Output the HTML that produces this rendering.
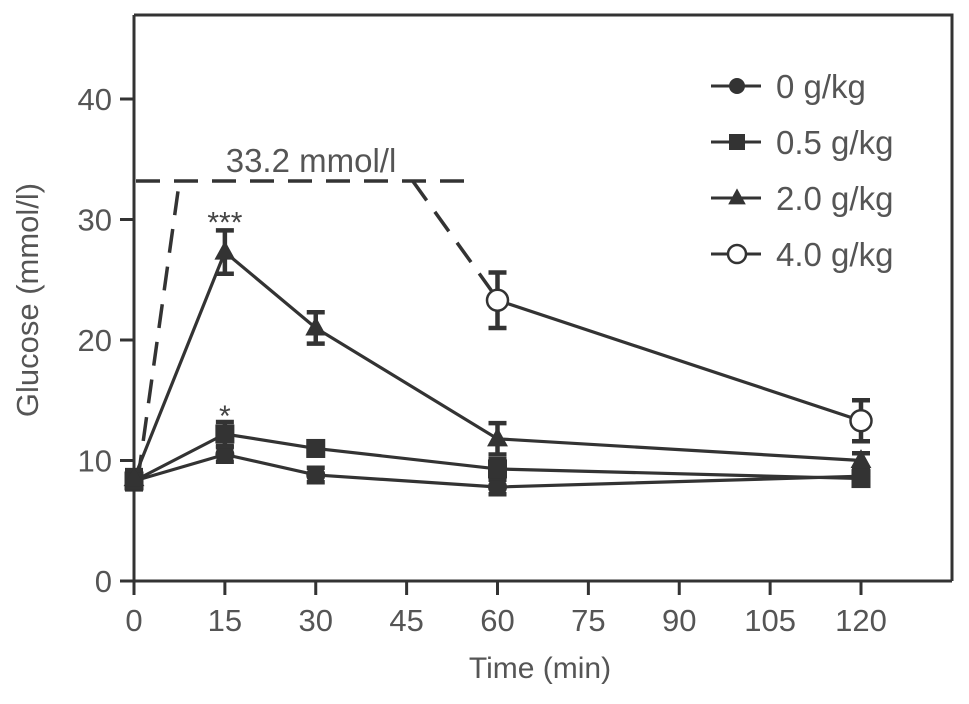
<!DOCTYPE html>
<html><head><meta charset="utf-8"><style>
html,body{margin:0;padding:0;background:#fff;}
svg{display:block;font-family:"Liberation Sans",sans-serif;}
</style></head><body>
<svg id="chart" width="969" height="704">
<g id="axes"></g><g id="marks"></g><g id="legend"></g>
</svg>
<script>
const times=[0,15,30,60,120];
const g0=[8.3,10.5,8.8,7.8,8.7];
const g0err=[0.6,0.6,0.6,0.6,0.5];
const g05=[8.3,12.2,11.0,9.3,8.5];
const g05err=[0.7,1.0,0.6,0.8,0.6];
const g2=[8.5,27.3,21.0,11.8,10.0];
const g2err=[0.7,1.8,1.3,1.3,0.6];
const g4t=[60,120];
const g4=[23.3,13.3];
const g4err=[2.3,1.7];
const xTicks=[0,15,30,45,60,75,90,105,120];
const yTicks=[0,10,20,30,40];
const limitVal=33.2;
const NS='http://www.w3.org/2000/svg';
const X=t=>134+t*(861-134)/120;
const Y=v=>581-v*12.05;
const C='#333';
function mk(tag,attrs,parent,text){const e=document.createElementNS(NS,tag);for(const k in attrs)e.setAttribute(k,attrs[k]);if(text!==undefined)e.textContent=text;parent.appendChild(e);return e;}
const axes=document.getElementById('axes'),marks=document.getElementById('marks'),leg=document.getElementById('legend');
let f=mk('path',{d:`M134,15 L952,15 L952,581 M120,581 L952,581 M134,15 L134,581`,fill:'none',stroke:C,'stroke-width':3},axes);


yTicks.forEach(v=>{
 let t=mk('line',{x1:120,x2:134,y1:Y(v),y2:Y(v),stroke:C,'stroke-width':3},axes);
 
 
 let l=mk('text',{x:112,y:Y(v)+11,'text-anchor':'end','font-size':31,fill:'#555'},axes,v);
 
 
});
xTicks.forEach(v=>{
 let t=mk('line',{x1:X(v),x2:X(v),y1:581,y2:595,stroke:C,'stroke-width':3},axes);
 
 
 let l=mk('text',{x:X(v),y:631,'text-anchor':'middle','font-size':31,fill:'#555'},axes,v);
 
 
});
let xt=mk('text',{x:540,y:678,'text-anchor':'middle','font-size':30,fill:'#555'},axes,'Time (min)');


let yt=mk('text',{x:0,y:0,'text-anchor':'middle','font-size':31,fill:'#555',transform:'translate(38,300) rotate(-90)'},axes,'Glucose (mmol/l)');


const dash={fill:'none',stroke:C,'stroke-width':3.5,'stroke-dasharray':'24,14'};
let d1=mk('path',Object.assign({d:`M${X(0)+4},${Y(g2[0])} L${X(7.5)},${Y(limitVal)}`},dash),marks);


let d2=mk('path',Object.assign({d:`M${X(0)+2},${Y(limitVal)} L${X(55.5)},${Y(limitVal)}`},dash),marks);


let d3=mk('path',Object.assign({d:`M${X(46)},${Y(limitVal)} L${X(59)},${Y(g4[0]+0.8)}`},dash),marks);


let lt=mk('text',{x:311,y:172,'text-anchor':'middle','font-size':33,fill:'#555'},marks,'33.2 mmol/l');


function marker(type,x,y,p,s){
 let e;
 if(type==='circle')e=mk('circle',{cx:x,cy:y,r:s,fill:C},p);
 else if(type==='open')e=mk('circle',{cx:x,cy:y,r:s,fill:'#fff',stroke:C,'stroke-width':2.5},p);
 else if(type==='square')e=mk('rect',{x:x-s,y:y-s,width:2*s,height:2*s,fill:C},p);
 else e=mk('path',{d:`M${x},${y-s*1.2} L${x+s*1.1},${y+s*0.8} L${x-s*1.1},${y+s*0.8}Z`,fill:C},p);
 return e;
}
function series(name,ts,vals,errs,type){
 const g=mk('g',{},marks);
 
 
 let ln=mk('polyline',{points:ts.map((t,i)=>X(t)+','+Y(vals[i])).join(' '),fill:'none',stroke:C,'stroke-width':3.2},g);
 
 
 ts.forEach((t,i)=>{
  const x=X(t),y1=Y(vals[i]+errs[i]),y2=Y(vals[i]-errs[i]);
  let eb=mk('path',{d:`M${x},${y1} L${x},${y2} M${x-9},${y1} L${x+9},${y1} M${x-9},${y2} L${x+9},${y2}`,stroke:C,'stroke-width':4.5,fill:'none'},g);
  
  
  let m=marker(type,x,Y(vals[i]),g,type==='open'?10.5:9.5);
  
  
 });
}
series('0-gkg',times,g0,g0err,'circle');
series('0.5-gkg',times,g05,g05err,'square');
series('2.0-gkg',times,g2,g2err,'triangle');
series('4.0-gkg',g4t,g4,g4err,'open');
let s3=mk('text',{x:X(15),y:Y(g2[1]+g2err[1])+2,'text-anchor':'middle','font-size':30,fill:'#444'},marks,'***');


let s1=mk('text',{x:X(15),y:Y(g05[1]+g05err[1])+4,'text-anchor':'middle','font-size':30,fill:'#444'},marks,'*');


const legNames=['0 g/kg','0.5 g/kg','2.0 g/kg','4.0 g/kg'];
const legTypes=['circle','square','triangle','open'];
legNames.forEach((n,i)=>{
 const y=86+i*56;
 const g=mk('g',{},leg);
 
 
 mk('line',{x1:711,x2:761,y1:y,y2:y,stroke:C,'stroke-width':3},g);
 marker(legTypes[i],737,y,g,legTypes[i]==='open'?9:8);
 mk('text',{x:776,y:y+12,'font-size':33,fill:'#555'},g,n);
});
</script>
</body></html>
